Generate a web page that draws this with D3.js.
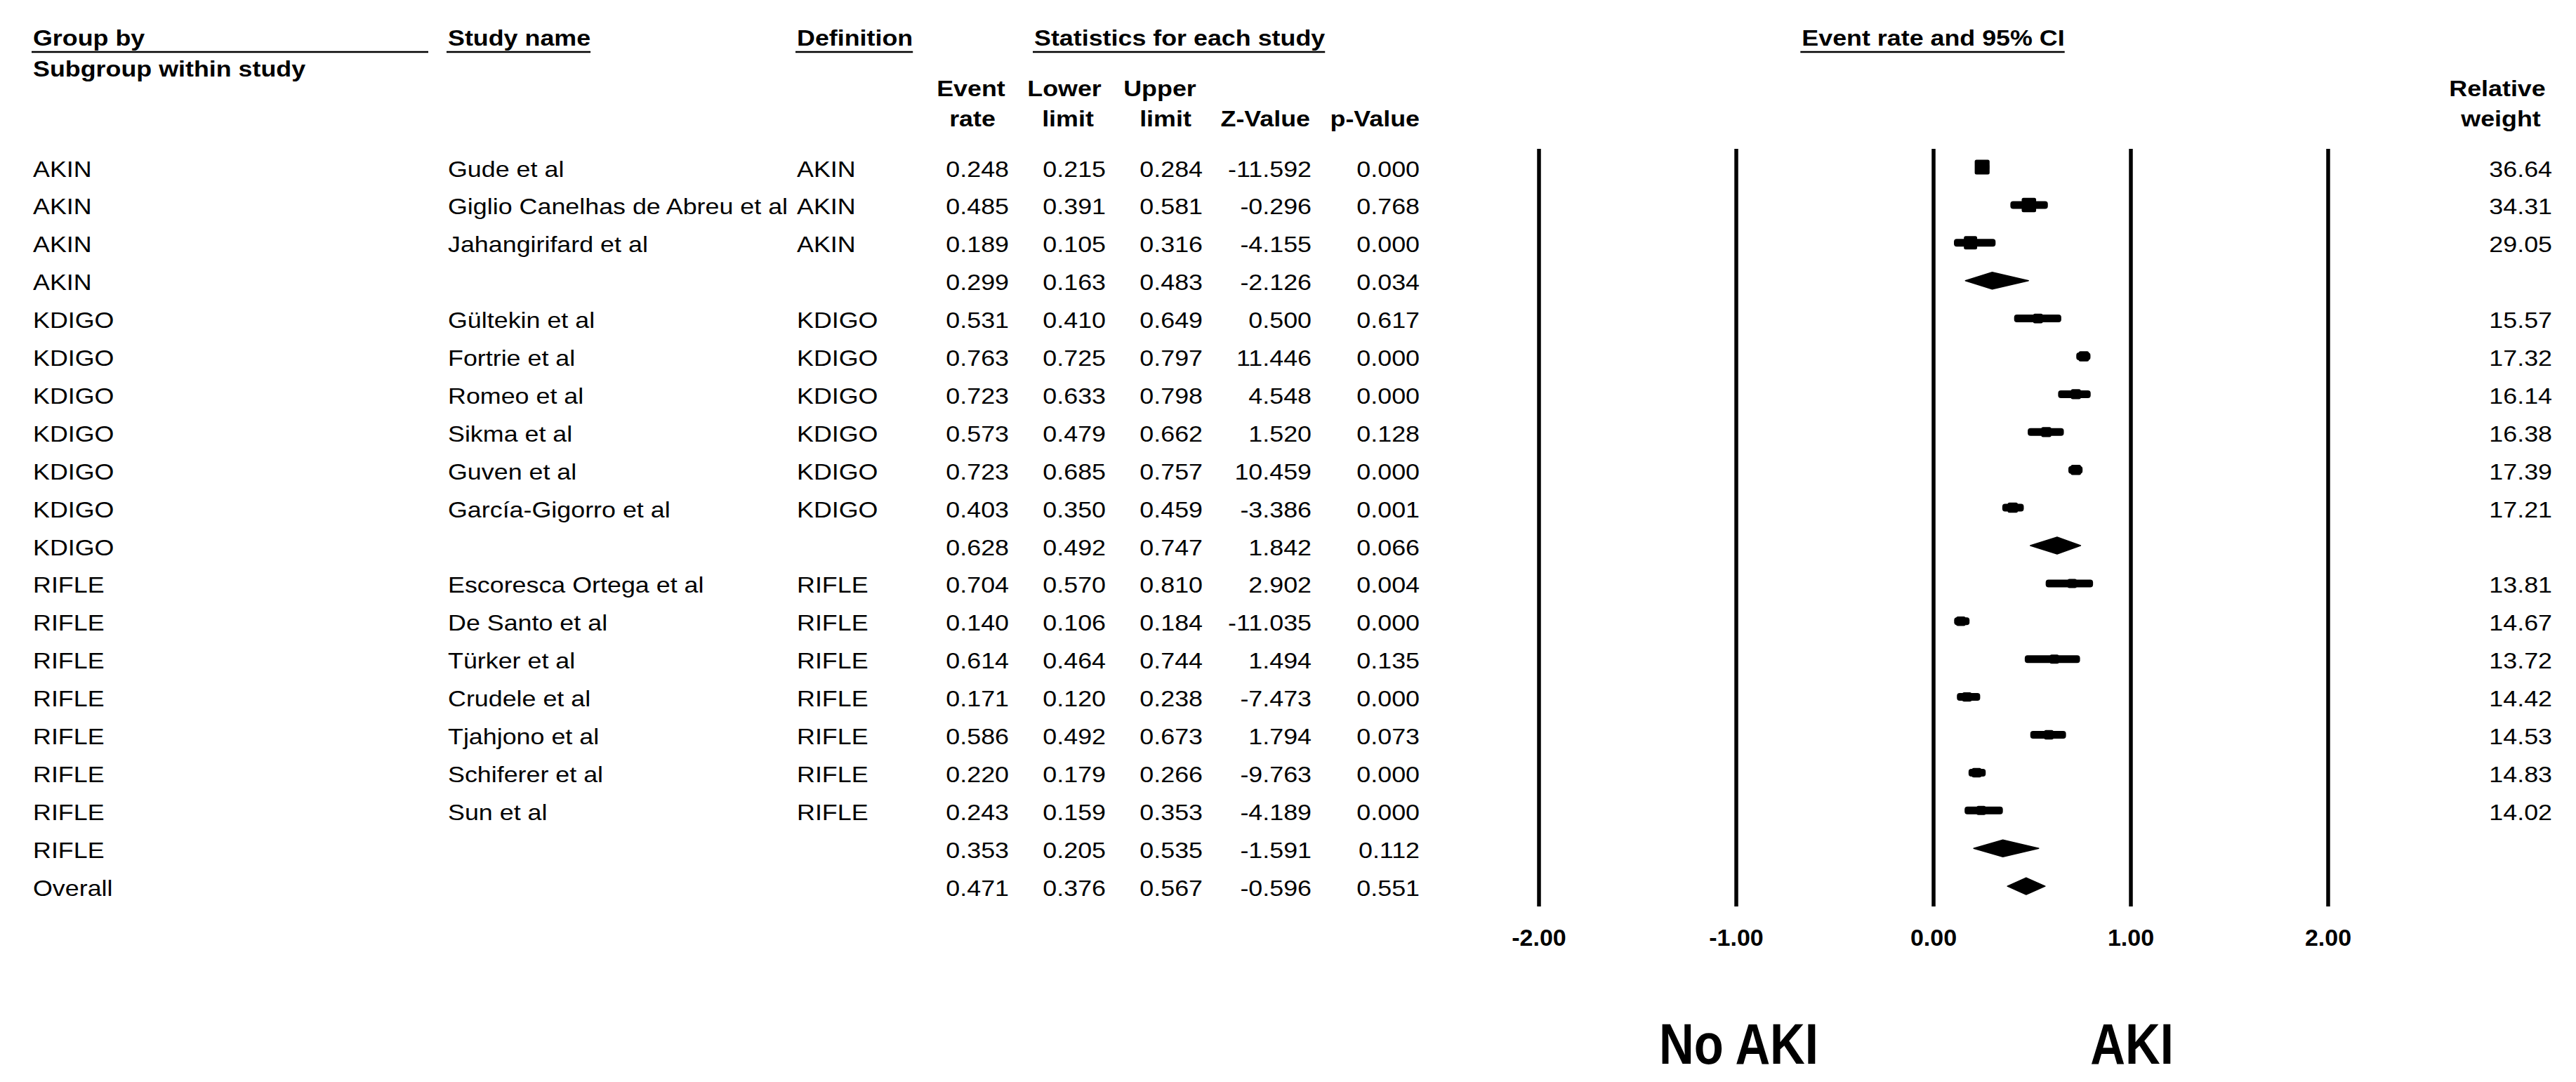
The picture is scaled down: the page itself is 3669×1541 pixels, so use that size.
<!DOCTYPE html>
<html><head><meta charset="utf-8">
<script src="https://cdn.jsdelivr.net/npm/d3@7"></script>
<style>
html,body{margin:0;padding:0;background:#fff}
svg{display:block}
text{font-family:"Liberation Sans",Arial,sans-serif;fill:#000}
</style>
</head><body>
<script>
// ---------------- data ----------------
const groupBy = ["AKIN","AKIN","AKIN","AKIN",
  "KDIGO","KDIGO","KDIGO","KDIGO","KDIGO","KDIGO","KDIGO",
  "RIFLE","RIFLE","RIFLE","RIFLE","RIFLE","RIFLE","RIFLE","RIFLE",
  "Overall"];
const studyNames = ["Gude et al","Giglio Canelhas de Abreu et al","Jahangirifard et al","",
  "Gültekin et al","Fortrie et al","Romeo et al","Sikma et al","Guven et al","García-Gigorro et al","",
  "Escoresca Ortega et al","De Santo et al","Türker et al","Crudele et al","Tjahjono et al","Schiferer et al","Sun et al","",
  ""];
const definitions = ["AKIN","AKIN","AKIN","",
  "KDIGO","KDIGO","KDIGO","KDIGO","KDIGO","KDIGO","",
  "RIFLE","RIFLE","RIFLE","RIFLE","RIFLE","RIFLE","RIFLE","",
  ""];
const eventRate = [0.248,0.485,0.189,0.299,
  0.531,0.763,0.723,0.573,0.723,0.403,0.628,
  0.704,0.140,0.614,0.171,0.586,0.220,0.243,0.353,
  0.471];
const lowerLimit = [0.215,0.391,0.105,0.163,
  0.410,0.725,0.633,0.479,0.685,0.350,0.492,
  0.570,0.106,0.464,0.120,0.492,0.179,0.159,0.205,
  0.376];
const upperLimit = [0.284,0.581,0.316,0.483,
  0.649,0.797,0.798,0.662,0.757,0.459,0.747,
  0.810,0.184,0.744,0.238,0.673,0.266,0.353,0.535,
  0.567];
const zValue = [-11.592,-0.296,-4.155,-2.126,
  0.500,11.446,4.548,1.520,10.459,-3.386,1.842,
  2.902,-11.035,1.494,-7.473,1.794,-9.763,-4.189,-1.591,
  -0.596];
const pValue = [0.000,0.768,0.000,0.034,
  0.617,0.000,0.000,0.128,0.000,0.001,0.066,
  0.004,0.000,0.135,0.000,0.073,0.000,0.000,0.112,
  0.551];
const relWeight = [36.64,34.31,29.05,null,
  15.57,17.32,16.14,16.38,17.39,17.21,null,
  13.81,14.67,13.72,14.42,14.53,14.83,14.02,null,
  null];
const axisTicks = [-2,-1,0,1,2];
const leftLabel = "No AKI", rightLabel = "AKI";

// ---------------- layout ----------------
const W = 3669, H = 1541;
const loc = d3.formatLocale({decimal:".",thousands:",",grouping:[3],currency:["$",""],minus:"-"});
const f3 = loc.format(".3f"), f2 = loc.format(".2f");

const rows = groupBy.map((g,i)=>({i,g,study:studyNames[i],def:definitions[i],
  er:eventRate[i],lo:lowerLimit[i],hi:upperLimit[i],z:zValue[i],p:pValue[i],w:relWeight[i],
  summary: studyNames[i]===""}));

const svg = d3.select("body").append("svg").attr("width",W).attr("height",H);
svg.append("rect").attr("width",W).attr("height",H).attr("fill","#fff");

const SX = 1.12, FS = 32;
function put(g,x,y,s,{anchor="start",bold=false,size=FS,sx=SX}={}){
  return g.append("text")
    .attr("transform",`translate(${x},${y}) scale(${sx},1)`)
    .attr("text-anchor",anchor)
    .attr("font-size",size)
    .attr("font-weight",bold?"bold":"normal")
    .text(s);
}
function underline(t,x,anchor,yLine,endOverride){
  const w = t.node().getComputedTextLength()*SX;
  let x0 = anchor==="middle" ? x-w/2 : x;
  let x1 = anchor==="middle" ? x+w/2 : x+w;
  if(endOverride!=null) x1 = endOverride;
  svg.append("line").attr("x1",x0-2).attr("x2",x1).attr("y1",yLine).attr("y2",yLine)
    .attr("stroke","#000").attr("stroke-width",2.5);
}

const xs = d3.scaleLinear().domain([-2,2]).range([2191.5,3315.5]);
const ys = d3.scaleLinear().domain([0,rows.length-1]).range([238,238+19*53.9]);

const colGroup=47, colStudy=638, colDef=1135;
const numRight=[1437,1575,1713,1868,2022];
const weightRight=3635;
const plotTop=212, plotBottom=1291;

// ---------------- headers ----------------
const hdrY=65, ulY=74;
let t;
t = put(svg,colGroup,hdrY,"Group by",{bold:true}); underline(t,colGroup,"start",ulY,610);
t = put(svg,colStudy,hdrY,"Study name",{bold:true}); underline(t,colStudy,"start",ulY);
t = put(svg,colDef,hdrY,"Definition",{bold:true}); underline(t,colDef,"start",ulY);
t = put(svg,1473,hdrY,"Statistics for each study",{bold:true}); underline(t,1473,"start",ulY);
t = put(svg,xs(0),hdrY,"Event rate and 95% CI",{bold:true,anchor:"middle"}); underline(t,xs(0),"middle",ulY);
put(svg,colGroup,109,"Subgroup within study",{bold:true});

const h1=137, h2=180;
put(svg,1383,h1,"Event",{bold:true,anchor:"middle"});
put(svg,1385,h2,"rate",{bold:true,anchor:"middle"});
put(svg,1516,h1,"Lower",{bold:true,anchor:"middle"});
put(svg,1521,h2,"limit",{bold:true,anchor:"middle"});
put(svg,1652,h1,"Upper",{bold:true,anchor:"middle"});
put(svg,1660,h2,"limit",{bold:true,anchor:"middle"});
put(svg,1866,h2,"Z-Value",{bold:true,anchor:"end"});
put(svg,2022,h2,"p-Value",{bold:true,anchor:"end"});
put(svg,3557,h1,"Relative",{bold:true,anchor:"middle"});
put(svg,3562,h2,"weight",{bold:true,anchor:"middle"});

// ---------------- axis / grid ----------------
const ax = svg.append("g").attr("transform",`translate(0,${plotBottom})`)
  .call(d3.axisBottom(xs).tickValues(axisTicks).tickFormat(f2)
    .tickSize(-(plotBottom-plotTop)).tickPadding(32));
ax.select(".domain").remove();
ax.selectAll(".tick line").attr("stroke","#000").attr("stroke-width",5.5);
ax.selectAll(".tick text").attr("font-size",34).attr("font-weight","bold")
  .attr("font-family",'"Liberation Sans",Arial,sans-serif').attr("fill","#000");

// ---------------- table rows ----------------
const gRows = svg.append("g");
rows.forEach(r=>{
  const by = ys(r.i)+13.5;
  put(gRows,colGroup,by,r.g);
  if(r.study) put(gRows,colStudy,by,r.study);
  if(r.def) put(gRows,colDef,by,r.def);
  [r.er,r.lo,r.hi,r.z,r.p].forEach((v,k)=>put(gRows,numRight[k],by,f3(v),{anchor:"end"}));
  if(r.w!=null) put(gRows,weightRight,by,f2(r.w),{anchor:"end"});
});

// ---------------- markers ----------------
const gM = svg.append("g");
const studies = rows.filter(r=>!r.summary);
gM.selectAll("rect.ci").data(studies).join("rect").attr("class","ci")
  .attr("x",d=>xs(d.lo)).attr("width",d=>xs(d.hi)-xs(d.lo))
  .attr("y",d=>ys(d.i)-5.5).attr("height",11).attr("rx",4).attr("fill","#000");
gM.selectAll("rect.box").data(studies).join("rect").attr("class","box")
  .attr("x",d=>xs(d.er)-3.5*Math.sqrt(d.w)/2).attr("width",d=>3.5*Math.sqrt(d.w))
  .attr("y",d=>ys(d.i)-3.5*Math.sqrt(d.w)/2).attr("height",d=>3.5*Math.sqrt(d.w))
  .attr("rx",2.5).attr("fill","#000");
gM.selectAll("path.dia").data(rows.filter(r=>r.summary)).join("path").attr("class","dia")
  .attr("d",d=>{const c=ys(d.i);return `M${xs(d.lo)},${c}L${xs(d.er)},${c-12}L${xs(d.hi)},${c}L${xs(d.er)},${c+12}Z`;})
  .attr("fill","#000").attr("stroke","#000").attr("stroke-width",1.5).attr("stroke-linejoin","round");

// ---------------- direction labels ----------------
put(svg,xs(-1)+4,1515,leftLabel,{bold:true,anchor:"middle",size:81,sx:0.85});
put(svg,xs(1)+2,1515,rightLabel,{bold:true,anchor:"middle",size:81,sx:0.85});
</script>
</body></html>
